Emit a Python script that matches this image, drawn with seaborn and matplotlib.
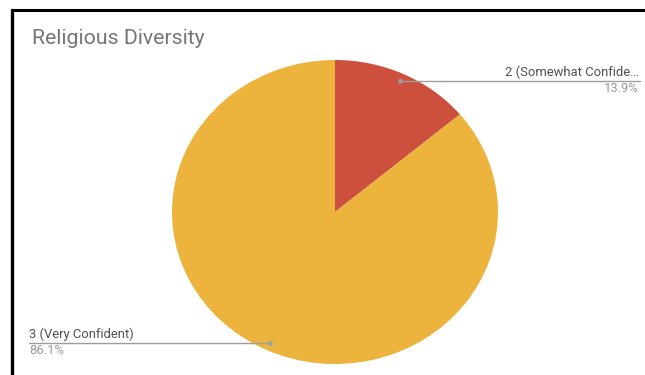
import numpy as np
import matplotlib
matplotlib.use("Agg")
import matplotlib.pyplot as plt
from matplotlib.lines import Line2D
import seaborn as sns

# Survey answer shares
categories = ["2 (Somewhat Confide\u2026", "3 (Very Confident)"]
shares = [13.9, 86.1]
pct_labels = ["13.9%", "86.1%"]
title = "Religious Diversity"

sns.set_theme(style="white")
plt.rcParams["font.family"] = ["Roboto", "DejaVu Sans"]

colors = ["#CD4F3E", "#ECB43D"]

W, H = 645, 375
fig = plt.figure(figsize=(W / 100, H / 100), dpi=100)
fig.patch.set_facecolor("white")

# pie area (pixel box, top-left origin)
px0, px1, py0, py1 = 172, 498, 60, 364
ax = fig.add_axes([px0 / W, 1 - py1 / H, (px1 - px0) / W, (py1 - py0) / H])
wedges, _ = ax.pie(shares, colors=colors, startangle=90, counterclock=False,
                   wedgeprops=dict(linewidth=0))
ax.set_aspect("auto")
ax.set_xlim(-1, 1)
ax.set_ylim(-1, 1)
ax.axis("off")

fig.canvas.draw()
to_fig_px = ax.transData


def anchor(w, r=0.95):
    mid = np.deg2rad((w.theta1 + w.theta2) / 2)
    x, y = r * np.cos(mid), r * np.sin(mid)
    dx, dy = to_fig_px.transform((x, y))
    return dx, H - dy  # top-left pixel coords


line_col = "#9E9E9E"
# label placement: x end of each leader line
label_x = [640, 29]
for w, cat, pct, lx in zip(wedges, categories, pct_labels, label_x):
    ax_px, ay_px = anchor(w)
    fig.add_artist(Line2D([ax_px / W, lx / W], [1 - ay_px / H, 1 - ay_px / H],
                          transform=fig.transFigure, color=line_col, lw=1.0))
    fig.add_artist(Line2D([ax_px / W], [1 - ay_px / H], transform=fig.transFigure,
                          marker="o", ms=2.5, color=line_col, lw=0))
    ha = "right" if lx > ax_px else "left"
    tx = lx - 1 if ha == "right" else lx
    fig.text(tx / W, 1 - (ay_px - 2) / H, cat, ha=ha, va="bottom",
             fontsize=9.4, color="#505050")
    fig.text(tx / W, 1 - (ay_px + 1) / H, pct, ha=ha, va="top",
             fontsize=9.4, color="#9A9A9A")

fig.text(32 / W, 1 - 39 / H, title, ha="left", va="center",
         fontsize=15.3, color="#757575")

# frame on top and left edges
fig.add_artist(Line2D([12 / W, 1], [1 - 10 / H, 1 - 10 / H],
                      transform=fig.transFigure, color="black", lw=2.2))
fig.add_artist(Line2D([12 / W, 12 / W], [1 - 10 / H, 0],
                      transform=fig.transFigure, color="black", lw=2.4))

fig.savefig("out.png", dpi=100, facecolor="white")
